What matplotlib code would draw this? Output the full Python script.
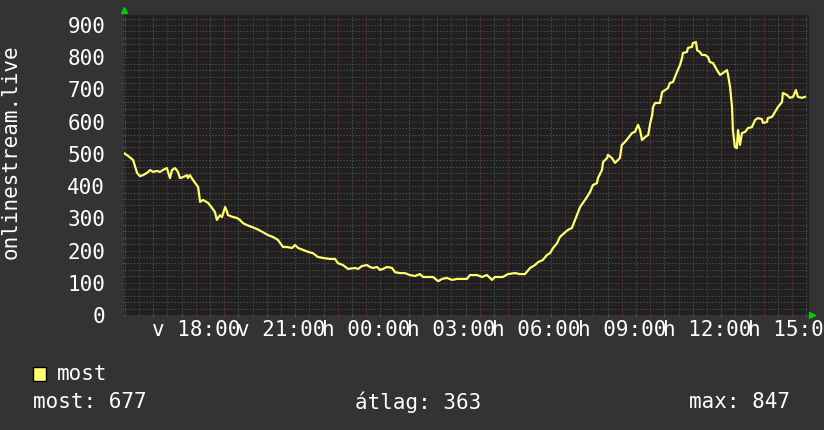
import numpy as np
import matplotlib
matplotlib.use('Agg')
import matplotlib.pyplot as plt

# time axis in hours from sunday 00:00 (24 = monday 00:00)
hours = [15.47, 15.58, 15.79, 15.93, 16.03, 16.14, 16.28, 16.39, 16.49, 16.63,
         16.74, 16.84, 16.98, 17.02, 17.09, 17.16, 17.27, 17.37, 17.44, 17.55,
         17.69, 17.72, 17.79, 17.90, 18.08, 18.15, 18.25, 18.43, 18.57, 18.67,
         18.74, 18.85, 18.92, 19.03, 19.10, 19.13, 19.31, 19.45, 19.55, 19.66,
         19.80, 19.98, 20.15, 20.36, 20.54, 20.72, 20.89, 21.07, 21.21, 21.39,
         21.49, 21.60, 21.77, 21.95, 22.12, 22.30, 22.48, 22.72, 22.90, 23.00,
         23.18, 23.36, 23.60, 23.71, 23.85, 24.03, 24.13, 24.24, 24.38, 24.48,
         24.59, 24.73, 24.91, 25.01, 25.19, 25.36, 25.54, 25.72, 25.89, 26.00,
         26.17, 26.35, 26.53, 26.67, 26.84, 27.02, 27.20, 27.37, 27.55, 27.65,
         27.90, 28.08, 28.25, 28.43, 28.53, 28.71, 28.81, 28.99, 29.24, 29.41,
         29.59, 29.77, 29.94, 30.05, 30.22, 30.36, 30.47, 30.58, 30.72, 30.82,
         30.93, 31.10, 31.24, 31.42, 31.53, 31.63, 31.77, 31.88, 31.98, 32.12,
         32.16, 32.30, 32.34, 32.48, 32.51, 32.65, 32.76, 32.86, 32.93, 33.00,
         33.11, 33.22, 33.36, 33.46, 33.57, 33.64, 33.71, 33.82, 33.93, 34.00,
         34.07, 34.10, 34.17, 34.34, 34.42, 34.52, 34.62, 34.69, 34.80, 34.94,
         35.05, 35.12, 35.15, 35.29, 35.33, 35.47, 35.50, 35.61, 35.65, 35.75,
         35.82, 35.93, 36.03, 36.10, 36.21, 36.35, 36.46, 36.56, 36.70, 36.74,
         36.81, 36.88, 36.91, 36.98, 37.05, 37.09, 37.16, 37.23, 37.34, 37.44,
         37.58, 37.69, 37.79, 37.93, 37.97, 38.11, 38.14, 38.29, 38.39, 38.50,
         38.64, 38.67, 38.81, 38.92, 39.03, 39.13, 39.20, 39.34, 39.45]
listeners = [502, 496, 481, 441, 431, 434, 441, 450, 444, 447,
             444, 450, 456, 444, 425, 450, 456, 444, 425, 428,
             434, 425, 434, 419, 397, 351, 357, 348, 332, 320,
             295, 310, 304, 335, 320, 310, 304, 301, 295, 285,
             279, 273, 267, 257, 248, 242, 233, 211, 211, 208,
             217, 208, 202, 196, 192, 180, 177, 174, 174, 161,
             155, 143, 146, 143, 152, 155, 149, 146, 149, 140,
             143, 149, 146, 133, 130, 130, 124, 121, 127, 118,
             118, 118, 105, 112, 115, 109, 112, 112, 112, 124,
             124, 118, 124, 109, 118, 118, 118, 127, 130, 127,
             127, 146, 155, 164, 171, 186, 192, 208, 223, 242,
             251, 264, 270, 310, 335, 348, 366, 382, 403, 409,
             425, 450, 475, 487, 497, 487, 472, 481, 487, 528,
             537, 549, 565, 568, 590, 574, 543, 552, 559, 596,
             621, 646, 658, 658, 692, 698, 704, 720, 723, 754,
             776, 798, 813, 816, 829, 832, 844, 847, 822, 816,
             807, 807, 801, 785, 782, 760, 745, 751, 760, 745,
             708, 646, 574, 521, 518, 574, 528, 565, 568, 580,
             583, 605, 611, 608, 596, 599, 611, 615, 630, 646,
             661, 689, 683, 674, 677, 698, 677, 674, 677]

x_start, x_end = 15.47, 39.59
y_max = 931

tick_hours = [18, 21, 24, 27, 30, 33, 36, 39]
tick_labels = ['v 18:00', 'v 21:00', 'h 00:00', 'h 03:00',
               'h 06:00', 'h 09:00', 'h 12:00', 'h 15:00']
y_ticks = [0, 100, 200, 300, 400, 500, 600, 700, 800, 900]

series_name = 'most'
stats = [('most', 677), ('átlag', 363), ('max', 847)]
ylabel = 'onlinestream.live'

bg = '#333333'
canvas = '#202020'
line_col = '#ffff70'
mgrid = '#603636'
grid = '#4a4a4a'
font = 'DejaVu Sans Mono'
fs = 15

fig = plt.figure(figsize=(8.24, 4.30), dpi=100, facecolor=bg)
ax = fig.add_axes([124 / 824, 115 / 430, 685 / 824, 300 / 430])
ax.set_facecolor(canvas)
for s in ax.spines.values():
    s.set_visible(False)

ax.plot(hours, listeners, color=line_col, lw=1.6, zorder=3)

ax.set_xlim(x_start, x_end)
ax.set_ylim(0, y_max)

hour_lines = np.arange(16, 40)
ax.set_xticks(hour_lines)
ax.set_xticklabels([tick_labels[tick_hours.index(h)] if h in tick_hours else ''
                    for h in hour_lines])
ax.set_xticks(np.arange(15.5, 39.6, 1.0), minor=True)
ax.set_yticks(y_ticks)
ax.set_yticks(np.arange(20, 931, 20), minor=True)

ax.grid(which='minor', color=grid, lw=0.75, linestyle=(0, (1.5, 1.5)))
ax.grid(which='major', color=mgrid, lw=0.75, linestyle=(0, (1.5, 1.5)))
ax.set_axisbelow(True)

ax.tick_params(which='major', length=3, direction='inout', color=mgrid, width=0.75)
ax.tick_params(which='minor', length=3, direction='inout', color=grid, width=0.75)
ax.tick_params(axis='y', pad=12)
ax.tick_params(axis='x', pad=2)
for lab in ax.get_xticklabels() + ax.get_yticklabels():
    lab.set_fontfamily(font)
    lab.set_fontsize(fs)
    lab.set_color('white')

# green arrows at the axis ends
ax.plot([0], [1.017], marker='^', color='#00cc00', ms=5, transform=ax.transAxes, clip_on=False)
ax.plot([1.005], [0.0], marker='>', color='#00cc00', ms=5, transform=ax.transAxes, clip_on=False)

fig.text(11 / 824, 1 - 152 / 430, ylabel, rotation=90, ha='center', va='center',
         family=font, fontsize=fs, color='white')

# legend
fig.patches.append(plt.Rectangle((33 / 824, 1 - 381 / 430), 13 / 824, 14 / 430,
                                 transform=fig.transFigure, facecolor=line_col,
                                 edgecolor='black', lw=1))
fig.text(57 / 824, 1 - 374 / 430, series_name, ha='left', va='center',
         family=font, fontsize=fs, color='white')
stat_x = [33, 355, 689]
for (name, val), sx in zip(stats, stat_x):
    fig.text(sx / 824, 1 - 402 / 430, f'{name}: {val}', ha='left', va='center',
             family=font, fontsize=fs, color='white')

fig.savefig('out.png', dpi=100, facecolor=bg)
